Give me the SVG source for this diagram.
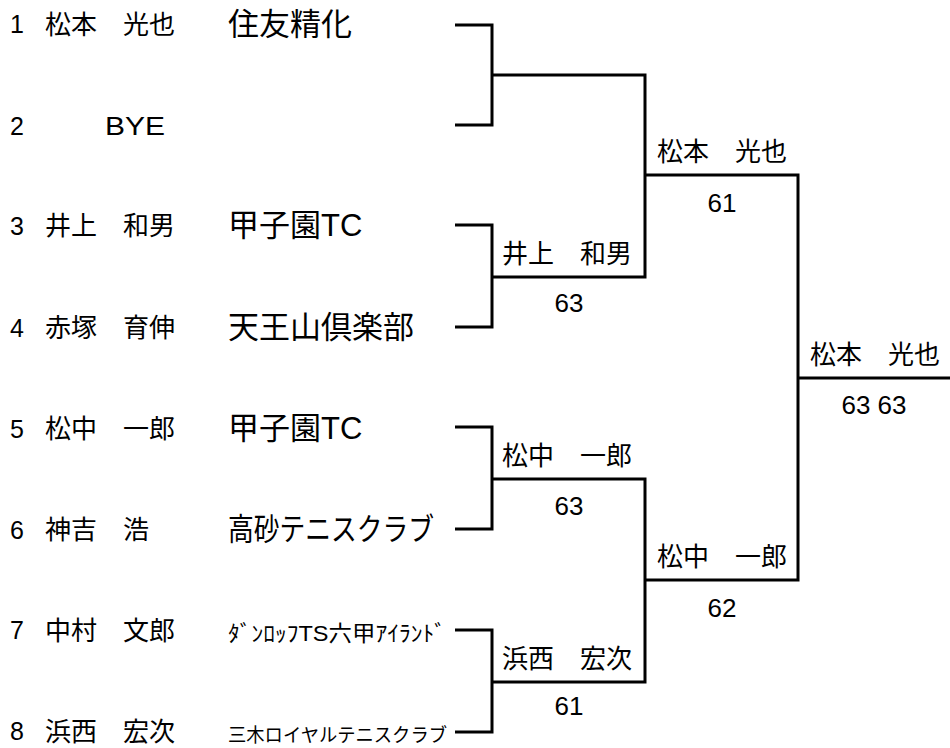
<svg xmlns="http://www.w3.org/2000/svg" width="950" height="748" viewBox="0 0 950 748">
<style>
text{font-family:"Liberation Sans","Noto Sans CJK JP",sans-serif;fill:#000}
.num{font-size:25px}
.nm{font-family:"Noto Sans CJK JP","Liberation Sans",sans-serif;font-size:26px}
.club{font-size:31px}
.sc{font-size:26px;text-anchor:middle}
.ln{fill:none;stroke:#000;stroke-width:3;stroke-linejoin:miter;stroke-linecap:butt}
</style>
<rect width="950" height="748" fill="#fff"/>
<g id="connectors" class="ln">
<path d="M455 25H492V125H455"/>
<path d="M455 225H492V327H455"/>
<path d="M455 427H492V529H455"/>
<path d="M455 630H492V732H455"/>
<path d="M492 75H645V277H492"/>
<path d="M492 479H645V682H492"/>
<path d="M645 175H798V580H645"/>
<path d="M798 378H950"/>
</g>
<g id="p1"><text class="num" x="10" y="33">1</text><text class="nm" x="45" y="34">松本　光也</text><text class="club" x="228" y="35">住友精化</text></g>
<g id="p2"><text class="num" x="10" y="135">2</text><text class="num" x="105" y="135" textLength="60" lengthAdjust="spacingAndGlyphs">BYE</text></g>
<g id="p3"><text class="num" x="10" y="235">3</text><text class="nm" x="45" y="235">井上　和男</text><text class="club" x="228" y="236">甲子園TC</text></g>
<g id="p4"><text class="num" x="10" y="337">4</text><text class="nm" x="45" y="337">赤塚　育伸</text><text class="club" x="228" y="338">天王山倶楽部</text></g>
<g id="p5"><text class="num" x="10" y="438">5</text><text class="nm" x="45" y="438">松中　一郎</text><text class="club" x="228" y="439">甲子園TC</text></g>
<g id="p6"><text class="num" x="10" y="539">6</text><text class="nm" x="45" y="539">神吉　浩</text><text class="club" x="228" y="540" textLength="206" lengthAdjust="spacingAndGlyphs">高砂テニスクラブ</text></g>
<g id="p7"><text class="num" x="10" y="639">7</text><text class="nm" x="45" y="640">中村　文郎</text><text x="228" y="641" font-size="22" textLength="218" lengthAdjust="spacingAndGlyphs">ﾀﾞﾝﾛｯﾌTS六甲ｱｲﾗﾝﾄﾞ</text></g>
<g id="p8"><text class="num" x="10" y="740">8</text><text class="nm" x="45" y="741">浜西　宏次</text><text x="228" y="742" font-size="19" textLength="219" lengthAdjust="spacingAndGlyphs">三木ロイヤルテニスクラブ</text></g>
<g id="w1"><text class="nm" x="502" y="263">井上　和男</text><text class="sc" x="569" y="312">63</text></g>
<g id="w2"><text class="nm" x="502" y="465">松中　一郎</text><text class="sc" x="569" y="515">63</text></g>
<g id="w3"><text class="nm" x="502" y="668">浜西　宏次</text><text class="sc" x="569" y="715">61</text></g>
<g id="w4"><text class="nm" x="657" y="161">松本　光也</text><text class="sc" x="722" y="212">61</text></g>
<g id="w5"><text class="nm" x="657" y="566">松中　一郎</text><text class="sc" x="722" y="617">62</text></g>
<g id="w6"><text class="nm" x="810" y="364">松本　光也</text><text class="sc" x="874" y="414">63 63</text></g>
</svg>
